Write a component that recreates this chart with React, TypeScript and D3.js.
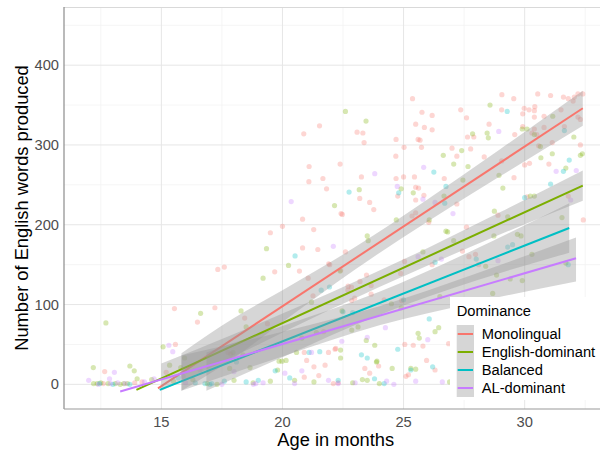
import React from 'react';
import * as d3 from 'd3';

// groups and colours (ggplot default hue palette)
const categories = ['Monolingual', 'English-dominant', 'Balanced', 'AL-dominant'];
const colors = ['#F8766D', '#7CAE00', '#00BFC4', '#C77CFF'];

const xTicks = [15, 20, 25, 30];
const xMinor = [12.5, 17.5, 22.5, 27.5, 32.5];
const yTicks = [0, 100, 200, 300, 400];
const yMinor = [50, 150, 250, 350, 450];

// raw observations: [age in months, words produced]
const monolingualPts: [number, number][] = [
  [12.66, 16], [12.6, 1], [13.9, 2], [14.2, 3],
  [15.2, 15], [15.54, 95], [15.58, 50], [16.49, 78], [17.21, 96], [17.33, 144], [17.6, 147], [17.75, 40],
  [18.44, 83], [19.38, 76], [19.5, 190], [19.68, 141], [17.86, 38],
  [20.0, 198], [20.88, 314], [21.53, 324], [21.1, 273], [21.09, 254], [21.67, 258], [21.82, 245], [22.42, 214],
  [22.47, 213], [20.83, 207], [22.38, 276], [23.19, 233], [23.08, 316], [23.32, 315], [23.37, 303], [23.26, 260],
  [23.6, 228], [23.77, 219], [24.69, 307], [24.68, 286], [24.69, 258], [24.76, 236],
  [21.29, 194], [20.83, 171], [21.46, 169], [21.91, 151], [22.6, 166], [22.71, 123], [22.85, 122], [23.66, 124],
  [22.98, 108], [21.26, 111], [20.7, 142], [21.06, 133], [22.4, 143], [23.47, 137], [23.2, 129], [22.7, 118],
  [22.86, 105], [24.2, 106], [21.95, 150], [23.66, 113], [24.88, 139],
  [22.2, 45], [20.9, 40], [21.3, 22], [21.76, 24], [21.0, 30], [21.7, 66], [22.17, 44], [21.9, 40], [23.97, 23],
  [22.1, 1], [22.3, 2], [20.9, 9], [21.5, 11], [23.6, 14], [23.4, 20],
  [25.37, 358], [25.76, 341], [26.18, 337], [25.5, 326], [25.86, 322], [26.18, 319], [25.6, 307], [25.68, 306],
  [25.74, 297], [25.02, 297], [25.0, 260], [25.45, 260], [25.5, 247], [25.62, 246], [25.84, 237], [25.5, 231],
  [25.5, 215], [25.35, 211], [26.04, 203], [26.68, 258], [27.2, 226], [27.0, 296], [27.2, 286], [27.36, 344],
  [27.6, 334], [27.64, 310], [27.9, 310], [27.77, 295], [28.33, 285], [28.53, 326], [29.06, 363], [29.55, 358],
  [29.05, 344], [29.59, 313], [29.05, 280], [29.56, 259], [28.9, 212], [29.98, 346], [29.92, 339], [29.92, 323],
  [25.04, 154], [24.92, 105], [25.05, 50], [25.4, 49], [25.8, 48], [26.86, 51], [25.1, 10], [25.2, 12], [26.3, 18],
  [27.7, 160], [28.1, 150], [27.6, 197], [27.43, 167], [27.97, 163], [26.18, 150], [25.95, 30],
  [30.18, 344], [30.4, 343], [30.42, 348], [30.54, 364], [31.07, 362], [30.4, 335], [30.8, 336], [31.5, 344],
  [31.6, 360], [31.8, 358], [32.0, 355], [32.2, 364], [32.4, 364], [32.05, 360], [32.2, 335], [32.3, 332],
  [30.4, 320], [30.8, 322], [30.3, 315], [30.5, 313], [31.64, 323], [31.14, 303], [32.3, 300], [30.0, 275],
  [30.2, 277], [30.58, 299], [31.0, 276], [30.1, 235], [31.8, 236], [32.42, 206],
];

const englishPts: [number, number][] = [
  [12.71, 77], [12.19, 21], [13.7, 23], [13.88, 17], [14.0, 7], [14.6, 6], [12.2, 1], [12.35, 1], [12.5, 2],
  [12.8, 1], [13.1, 1], [13.3, 0], [13.45, 1], [13.6, 1],
  [15.07, 47], [16.62, 89], [18.29, 92], [18.5, 72], [19.2, 133], [19.34, 170], [15.34, 24], [15.96, 33], [15.8, 21],
  [17.82, 20], [17.96, 40], [18.37, 37], [18.66, 21], [19.86, 29], [19.98, 29], [19.8, 18], [18.0, 5], [18.79, 2],
  [19.5, 4], [17.3, 0], [16.3, 6], [16.9, 1], [15.5, 4],
  [20.25, 149], [22.15, 224], [22.6, 342], [23.45, 330], [23.17, 244], [22.38, 142], [22.46, 92], [21.2, 103],
  [23.12, 72], [22.86, 68], [23.46, 55], [23.81, 49], [23.54, 180], [23.5, 186], [24.5, 101], [22.4, 43], [23.9, 29],
  [23.88, 28], [22.4, 33], [21.4, 65], [20.8, 58], [20.15, 30], [23.3, 6], [23.5, 5], [20.5, 5], [24.0, 1],
  [21.3, 3], [22.9, 2], [20.58, 40],
  [24.9, 245], [25.4, 240], [24.7, 206], [26.06, 206], [26.67, 236], [26.64, 287], [27.4, 293], [27.07, 276],
  [27.85, 314], [27.66, 273], [27.45, 256], [28.45, 315], [28.5, 309], [28.57, 350], [28.94, 262], [29.1, 246],
  [28.75, 217], [29.3, 210], [25.8, 166], [26.75, 192], [26.82, 191], [27.07, 180], [28.39, 148], [28.73, 186],
  [29.85, 186], [29.7, 188], [28.84, 137], [29.4, 132], [29.9, 130], [28.68, 114], [26.5, 110], [24.9, 96],
  [25.65, 58], [25.6, 64], [26.3, 66], [26.45, 71], [25.5, 19], [24.53, 20], [25.3, 20], [27.2, 8], [26.9, 3],
  [29.9, 320], [30.1, 320], [30.4, 313], [31.16, 336], [32.03, 310], [30.65, 298], [30.67, 284], [31.14, 289],
  [31.7, 271], [32.3, 287], [32.38, 289], [30.23, 236], [30.4, 236], [31.54, 209], [30.3, 163], [31.7, 152],
];

const balancedPts: [number, number][] = [
  [12.45, 1], [13.0, 0], [13.7, 0],
  [19.7, 17], [18.1, 28], [17.0, 0], [17.08, 1], [16.4, 2], [17.6, 4], [15.7, 8], [16.8, 1], [19.0, 5], [18.5, 3],
  [20.52, 161], [22.75, 241], [21.94, 122], [22.9, 90], [22.5, 91], [21.54, 41], [24.76, 44], [23.26, 37],
  [23.5, 33], [21.6, 118], [21.1, 40], [20.3, 8], [22.3, 5], [23.8, 7], [24.2, 1],
  [24.8, 240], [26.25, 266], [26.75, 248], [26.7, 227], [26.3, 153], [28.0, 157], [29.5, 175], [29.3, 172],
  [25.0, 106], [26.06, 82], [25.3, 18], [26.2, 22], [29.28, 342],
  [31.64, 318], [31.84, 281], [31.6, 267], [30.0, 234], [31.07, 251], [31.8, 150],
];

const alPts: [number, number][] = [
  [12.0, 5], [13.06, 15], [12.86, 7], [14.7, 7], [12.4, 0], [12.9, 1], [13.2, 2], [13.5, 1], [14.3, 3],
  [15.31, 49], [15.47, 41], [18.0, 16], [18.8, 0], [16.0, 2], [17.5, 0], [19.2, 2], [15.9, 10], [16.6, 18], [18.9, 1],
  [20.36, 229], [23.81, 264], [22.1, 173], [23.5, 59], [24.25, 71], [20.8, 17], [21.2, 40], [22.45, 54],
  [20.1, 14], [21.9, 5], [22.3, 1], [24.3, 4], [20.5, 1], [23.0, 2], [24.6, 0],
  [24.74, 248], [25.83, 272], [25.8, 232], [26.3, 228], [27.04, 214], [28.93, 317], [25.6, 160], [26.56, 157],
  [28.9, 155], [26.0, 56], [25.5, 4], [26.6, 3],
  [32.13, 268], [31.3, 267], [31.9, 231],
];

// fitted linear trends: [age, words]
const monolingualFit: [number, number][] = [[14.86, -5], [32.4, 346]];
const englishFit: [number, number][] = [[13.97, -7], [32.4, 249]];
const balancedFit: [number, number][] = [[14.93, -7], [31.84, 196]];
const alFit: [number, number][] = [[13.3, -9], [32.12, 158]];

// confidence bands: [age, lower, upper]
const monolingualBand: [number, number, number][] = [
  [15.83, -8, 39], [18, 33, 83], [20, 78, 118], [23, 144, 172], [26, 204, 232], [29, 261, 295], [32.4, 324, 368],
];
const englishBand: [number, number, number][] = [
  [15.0, -8, 26], [18, 35, 63], [22, 94, 115], [26, 149, 171], [29, 188, 216], [32.4, 230, 268],
];
const balancedBand: [number, number, number][] = [
  [16.86, -8, 40], [20, 34, 73], [24, 87, 116], [28, 130, 170], [31.84, 165, 227],
];
const alBand: [number, number, number][] = [
  [15.83, -8, 36], [20, 35, 66], [24, 74, 98], [28, 103, 139], [32.12, 129, 184],
];

const points = [monolingualPts, englishPts, balancedPts, alPts];
const fits = [monolingualFit, englishFit, balancedFit, alFit];
const bands = [monolingualBand, englishBand, balancedBand, alBand];

const W = 600;
const H = 450;
const panel = { left: 64, top: 7, right: 607.5, bottom: 409 };
const font = '"Liberation Sans", Arial, sans-serif';

export default function App() {
  const x = d3.scaleLinear().domain([10.98, 33.42]).range([panel.left, panel.right]);
  const y = d3.scaleLinear().domain([-30.9, 472.9]).range([panel.bottom, panel.top]);

  const line = d3.line<[number, number]>().x(d => x(d[0])).y(d => y(d[1]));
  const area = d3
    .area<[number, number, number]>()
    .x(d => x(d[0]))
    .y0(d => y(d[1]))
    .y1(d => y(d[2]))
    .curve(d3.curveMonotoneX);

  const legendX = 456.7;
  const keyTop = 325;
  const keyH = 18;

  return (
    <>
      <style>{'body{margin:0}'}</style>
      <svg width={W} height={H} style={{ display: 'block', fontFamily: font }}>
        <defs>
          <clipPath id="panel">
            <rect x={panel.left} y={panel.top} width={panel.right - panel.left} height={panel.bottom - panel.top} />
          </clipPath>
        </defs>
        <rect x={0} y={0} width={W} height={H} fill="#fff" />

        {/* grid */}
        {yMinor.map(v => (
          <line key={'ym' + v} x1={panel.left} x2={panel.right} y1={y(v)} y2={y(v)} stroke="#f3f3f3" strokeWidth={0.8} />
        ))}
        {xMinor.map(v => (
          <line key={'xm' + v} x1={x(v)} x2={x(v)} y1={panel.top} y2={panel.bottom} stroke="#f3f3f3" strokeWidth={0.8} />
        ))}
        {yTicks.map(v => (
          <line key={'y' + v} x1={panel.left} x2={panel.right} y1={y(v)} y2={y(v)} stroke="#e6e6e6" strokeWidth={1} />
        ))}
        {xTicks.map(v => (
          <line key={'x' + v} x1={x(v)} x2={x(v)} y1={panel.top} y2={panel.bottom} stroke="#e6e6e6" strokeWidth={1} />
        ))}

        <g clipPath="url(#panel)">
          {points.map((pts, gi) =>
            pts.map((d, i) => (
              <circle key={gi + '-' + i} cx={x(d[0])} cy={y(d[1])} r={2.6} fill={colors[gi]} opacity={0.3} />
            ))
          )}
          {categories.map((c, gi) => (
            <g key={c}>
              <path d={area(bands[gi]) || ''} fill="#999999" opacity={0.4} />
              <path d={line(fits[gi]) || ''} fill="none" stroke={colors[gi]} strokeWidth={2} />
            </g>
          ))}
        </g>

        {/* panel border and axis lines */}
        <line x1={panel.left} x2={W} y1={panel.top + 0.5} y2={panel.top + 0.5} stroke="#d9d9d9" strokeWidth={1} />
        <line x1={panel.left} x2={panel.left} y1={panel.top} y2={panel.bottom} stroke="#8c8c8c" strokeWidth={1.2} />
        <line x1={panel.left} x2={W} y1={panel.bottom} y2={panel.bottom} stroke="#999" strokeWidth={1.2} />

        {/* tick labels */}
        {yTicks.map(v => (
          <text key={'yl' + v} x={59} y={y(v)} dy="0.35em" textAnchor="end" fontSize={14.7} fill="#4d4d4d">
            {v}
          </text>
        ))}
        {xTicks.map(v => (
          <text key={'xl' + v} x={x(v)} y={427} textAnchor="middle" fontSize={14.7} fill="#4d4d4d">
            {v}
          </text>
        ))}

        {/* axis titles */}
        <text x={(panel.left + panel.right) / 2} y={446} textAnchor="middle" fontSize={18.3} fill="#000">
          Age in months
        </text>
        <text
          transform={`translate(28,${(panel.top + panel.bottom) / 2}) rotate(-90)`}
          textAnchor="middle"
          fontSize={18.3}
          fill="#000"
        >
          Number of English words produced
        </text>

        {/* legend */}
        <rect x={450} y={297} width={160} height={103} fill="#fff" />
        <text x={legendX} y={316} fontSize={14.7} fill="#000">
          Dominance
        </text>
        {categories.map((c, i) => {
          const cy = keyTop + i * keyH + keyH / 2;
          return (
            <g key={'lg' + c}>
              <rect x={legendX} y={keyTop + i * keyH} width={17.3} height={keyH} fill="#d6d6d6" />
              <line x1={legendX + 1} x2={legendX + 16.3} y1={cy} y2={cy} stroke={colors[i]} strokeWidth={2} />
              <text x={481.7} y={cy} dy="0.35em" fontSize={14.7} fill="#000">
                {c}
              </text>
            </g>
          );
        })}
      </svg>
    </>
  );
}
